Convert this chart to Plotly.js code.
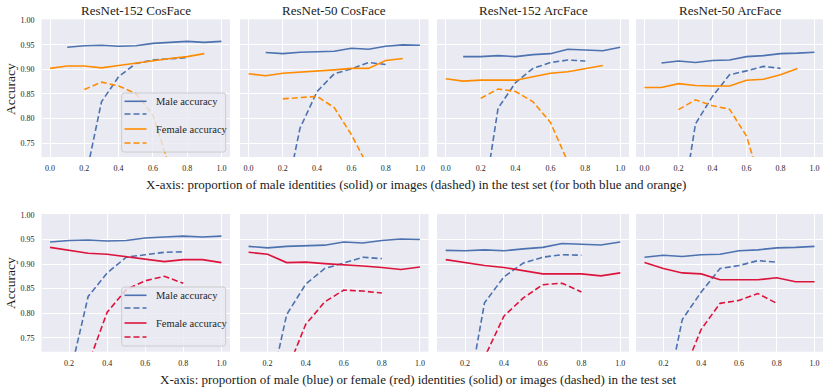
<!DOCTYPE html>
<html>
<head>
<meta charset="utf-8">
<script src="https://cdn.plot.ly/plotly-3.0.1.min.js"></script>
<style>
  body { margin: 0; background: white; }
  #chart { width: 830px; height: 392px; }
</style>
</head>
<body>
<div id="chart"></div>
<script>
// x values
var xTopSolidBlue = [0.1, 0.2, 0.3, 0.4, 0.5, 0.6, 0.7, 0.8, 0.9, 1.0];
var xTopSolidOrange = [0.0, 0.1, 0.2, 0.3, 0.4, 0.5, 0.6, 0.7, 0.8, 0.9];
var xDashed = [0.2, 0.3, 0.4, 0.5, 0.6, 0.7, 0.8];
var xBottomSolid = [0.1, 0.2, 0.3, 0.4, 0.5, 0.6, 0.7, 0.8, 0.9, 1.0];

var titles = ['ResNet-152 CosFace', 'ResNet-50 CosFace', 'ResNet-152 ArcFace', 'ResNet-50 ArcFace'];
var legendLabels = ['Male accuracy', '', 'Female accuracy', ''];

// top row: male (blue) vs female (orange), x = proportion of male
var topMaleSolid = [
  [0.945, 0.948, 0.949, 0.947, 0.948, 0.953, 0.955, 0.957, 0.955, 0.957],
  [0.9345, 0.932, 0.935, 0.936, 0.937, 0.943, 0.941, 0.947, 0.950, 0.949],
  [0.926, 0.926, 0.928, 0.926, 0.930, 0.932, 0.941, 0.939, 0.938, 0.945],
  [0.913, 0.917, 0.914, 0.918, 0.919, 0.926, 0.928, 0.932, 0.933, 0.935]
];
var topFemaleSolid = [
  [0.902, 0.907, 0.907, 0.903, 0.908, 0.913, 0.918, 0.922, 0.926, 0.932],
  [0.891, 0.887, 0.892, 0.894, 0.897, 0.899, 0.902, 0.902, 0.918, 0.922],
  [0.881, 0.876, 0.878, 0.878, 0.878, 0.885, 0.892, 0.895, 0.902, 0.908],
  [0.863, 0.863, 0.871, 0.867, 0.866, 0.866, 0.878, 0.880, 0.889, 0.902]
];
var topMaleDashed = [
  [0.667, 0.834, 0.885, 0.912, 0.919, 0.922, 0.924],
  [0.61, 0.780, 0.855, 0.891, 0.901, 0.914, 0.910],
  [0.591, 0.821, 0.873, 0.902, 0.914, 0.919, 0.917],
  [0.573, 0.789, 0.845, 0.889, 0.897, 0.906, 0.902]
];
var topFemaleDashed = [
  [0.859, 0.874, 0.866, 0.851, 0.807, 0.698, 0.62],
  [0.840, 0.843, 0.845, 0.822, 0.767, 0.70, 0.62],
  [0.841, 0.860, 0.855, 0.834, 0.792, 0.71, 0.63],
  [0.818, 0.838, 0.826, 0.819, 0.764, 0.65, 0.58]
];

// bottom row: male (blue) vs female (red), x = proportion of each gender
var botMaleSolid = [
  [0.945, 0.948, 0.949, 0.947, 0.948, 0.953, 0.955, 0.957, 0.955, 0.957],
  [0.936, 0.933, 0.936, 0.937, 0.9385, 0.945, 0.943, 0.948, 0.951, 0.950],
  [0.928, 0.927, 0.929, 0.927, 0.931, 0.934, 0.942, 0.940, 0.939, 0.945],
  [0.914, 0.918, 0.9155, 0.919, 0.920, 0.927, 0.929, 0.933, 0.934, 0.936]
];
var botFemaleSolid = [
  [0.934, 0.928, 0.922, 0.920, 0.915, 0.911, 0.905, 0.909, 0.909, 0.903],
  [0.924, 0.920, 0.903, 0.904, 0.901, 0.899, 0.896, 0.893, 0.889, 0.894],
  [0.909, 0.903, 0.897, 0.893, 0.886, 0.880, 0.880, 0.880, 0.876, 0.882],
  [0.903, 0.891, 0.882, 0.880, 0.868, 0.868, 0.868, 0.872, 0.864, 0.864]
];
var botMaleDashed = [
  [0.667, 0.834, 0.882, 0.914, 0.919, 0.924, 0.925],
  [0.62, 0.797, 0.859, 0.891, 0.902, 0.914, 0.911],
  [0.60, 0.821, 0.874, 0.902, 0.914, 0.919, 0.918],
  [0.60, 0.787, 0.843, 0.891, 0.897, 0.907, 0.904]
];
var botFemaleDashed = [
  [0.59, 0.695, 0.802, 0.848, 0.866, 0.875, 0.861],
  [0.58, 0.681, 0.777, 0.823, 0.847, 0.845, 0.841],
  [0.60, 0.710, 0.794, 0.831, 0.858, 0.861, 0.843],
  [0.57, 0.673, 0.767, 0.820, 0.826, 0.840, 0.820]
];

var blue = '#4c72b0';
var orange = '#ff8c00';
var red = '#dc143c';
var serif = 'Liberation Serif, Times New Roman, serif';
var W = 830, H = 392;
var DASH = '6px,3px';

var xPix = [[41.5, 230], [240, 428.5], [437, 629], [636, 823]];
var yTopPix = [19.3, 157];
var yBotPix = [214, 351.7];

function line(x, y, color, dash, xa, ya) {
  return {
    x: x, y: y, type: 'scatter', mode: 'lines',
    line: {color: color, width: 1.6, dash: dash ? DASH : 'solid'},
    xaxis: xa, yaxis: ya, showlegend: false, hoverinfo: 'x+y'
  };
}

// px -> paper helpers
function px(v) { return v / W; }
function py(v) { return 1 - v / H; }

var data = [];
var shapes = [];
var annotations = [];
var layout = {
  width: W, height: H,
  margin: {l: 0, r: 0, t: 0, b: 0},
  paper_bgcolor: 'white',
  plot_bgcolor: '#eaeaf2',
  font: {family: serif, color: '#262626'},
  showlegend: false
};

// legend box drawn by hand (matplotlib style, inside first panel)
function addLegend(top, colors) {
  var x0 = 121.7, x1 = 225.7, y0 = top, y1 = top + 59, r = 2.5;
  var path = 'M' + px(x0 + r) + ',' + py(y0) +
    ' L' + px(x1 - r) + ',' + py(y0) +
    ' Q' + px(x1) + ',' + py(y0) + ' ' + px(x1) + ',' + py(y0 + r) +
    ' L' + px(x1) + ',' + py(y1 - r) +
    ' Q' + px(x1) + ',' + py(y1) + ' ' + px(x1 - r) + ',' + py(y1) +
    ' L' + px(x0 + r) + ',' + py(y1) +
    ' Q' + px(x0) + ',' + py(y1) + ' ' + px(x0) + ',' + py(y1 - r) +
    ' L' + px(x0) + ',' + py(y0 + r) +
    ' Q' + px(x0) + ',' + py(y0) + ' ' + px(x0 + r) + ',' + py(y0) + ' Z';
  shapes.push({
    type: 'path', xref: 'paper', yref: 'paper', path: path,
    fillcolor: 'rgba(234,234,242,0.8)', line: {color: '#cccccc', width: 1}
  });
  var rows = [8.3, 21, 36, 50];
  for (var k = 0; k < 4; k++) {
    var yy = py(top + rows[k]);
    shapes.push({
      type: 'line', xref: 'paper', yref: 'paper',
      x0: px(124.5), x1: px(146.5), y0: yy, y1: yy,
      line: {color: colors[k], width: 1.6, dash: k % 2 ? DASH : 'solid'}
    });
    if (legendLabels[k]) {
      annotations.push({
        text: legendLabels[k], xref: 'paper', yref: 'paper',
        x: px(153.5), y: yy, xanchor: 'left', yanchor: 'middle', showarrow: false,
        font: {size: 10.5, family: serif, color: '#262626'}
      });
    }
  }
}

for (var row = 0; row < 2; row++) {
  for (var i = 0; i < 4; i++) {
    var n = row * 4 + i + 1;
    var xa = n === 1 ? 'x' : 'x' + n;
    var ya = n === 1 ? 'y' : 'y' + n;
    var first = i === 0;
    if (row === 0) {
      data.push(line(xTopSolidBlue, topMaleSolid[i], blue, false, xa, ya));
      data.push(line(xDashed, topMaleDashed[i], blue, true, xa, ya));
      data.push(line(xTopSolidOrange, topFemaleSolid[i], orange, false, xa, ya));
      data.push(line(xDashed, topFemaleDashed[i], orange, true, xa, ya));
    } else {
      data.push(line(xBottomSolid, botMaleSolid[i], blue, false, xa, ya));
      data.push(line(xDashed, botMaleDashed[i], blue, true, xa, ya));
      data.push(line(xBottomSolid, botFemaleSolid[i], red, false, xa, ya));
      data.push(line(xDashed, botFemaleDashed[i], red, true, xa, ya));
    }
    var yp = row === 0 ? yTopPix : yBotPix;
    layout['xaxis' + (n === 1 ? '' : n)] = {
      domain: [xPix[i][0] / W, xPix[i][1] / W],
      anchor: ya,
      range: row === 0 ? [-0.05, 1.05] : [0.055, 1.045],
      tickvals: row === 0 ? [0, 0.2, 0.4, 0.6, 0.8, 1.0] : [0.2, 0.4, 0.6, 0.8, 1.0],
      ticktext: row === 0 ? ['0.0', '0.2', '0.4', '0.6', '0.8', '1.0'] : ['0.2', '0.4', '0.6', '0.8', '1.0'],
      gridcolor: 'white', gridwidth: 1, zeroline: false, showline: false,
      ticks: '', ticklabelstandoff: 5,
      tickfont: {size: 8, family: 'Liberation Serif', color: '#262626'}
    };
    layout['yaxis' + (n === 1 ? '' : n)] = {
      domain: [1 - yp[1] / H, 1 - yp[0] / H],
      anchor: xa,
      range: [0.7215, 1.002],
      tickvals: [0.75, 0.8, 0.85, 0.9, 0.95, 1.0],
      ticktext: ['0.75', '0.80', '0.85', '0.90', '0.95', '1.00'],
      showticklabels: first,
      gridcolor: 'white', gridwidth: 1, zeroline: false, showline: false,
      ticks: '', ticklabelstandoff: 6,
      tickfont: {size: 8, family: 'Liberation Serif', color: '#262626'}
    };
    if (row === 0) {
      annotations.push({
        text: titles[i], xref: 'paper', yref: 'paper',
        x: (xPix[i][0] + xPix[i][1]) / 2 / W, y: 1 - 11 / H,
        xanchor: 'center', yanchor: 'middle', showarrow: false,
        font: {size: 13, family: serif, color: '#1a1a1a'}
      });
    }
  }
}

addLegend(93, [blue, blue, orange, orange]);
addLegend(287, [blue, blue, red, red]);

annotations.push({
  text: 'X-axis: proportion of male identities (solid) or images (dashed) in the test set (for both blue and orange)',
  xref: 'paper', yref: 'paper', x: 416 / W, y: 1 - 184 / H,
  xanchor: 'center', yanchor: 'middle', showarrow: false,
  font: {size: 13, family: serif, color: '#1a1a1a'}
});
annotations.push({
  text: 'X-axis: proportion of male (blue) or female (red) identities (solid) or images (dashed) in the test set',
  xref: 'paper', yref: 'paper', x: 418 / W, y: 1 - 379 / H,
  xanchor: 'center', yanchor: 'middle', showarrow: false,
  font: {size: 13, family: serif, color: '#1a1a1a'}
});
annotations.push({
  text: 'Accuracy', xref: 'paper', yref: 'paper', x: 10 / W, y: 1 - 89 / H,
  xanchor: 'center', yanchor: 'middle', showarrow: false, textangle: -90,
  font: {size: 13.5, family: serif, color: '#1a1a1a'}
});
annotations.push({
  text: 'Accuracy', xref: 'paper', yref: 'paper', x: 10 / W, y: 1 - 283 / H,
  xanchor: 'center', yanchor: 'middle', showarrow: false, textangle: -90,
  font: {size: 13.5, family: serif, color: '#1a1a1a'}
});

layout.shapes = shapes;
layout.annotations = annotations;

Plotly.newPlot('chart', data, layout, {staticPlot: true});
</script>
</body>
</html>
